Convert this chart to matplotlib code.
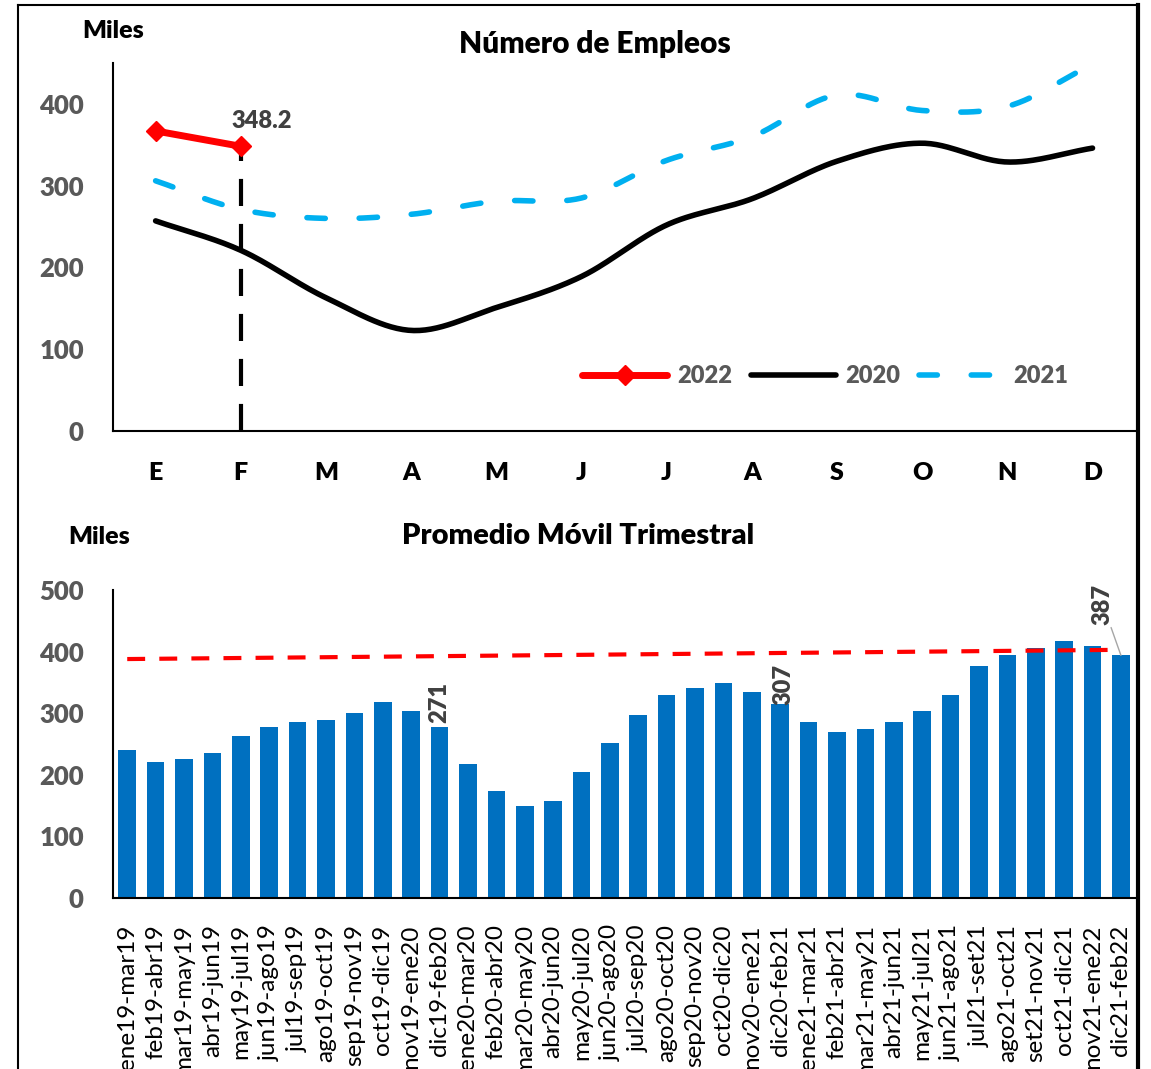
import matplotlib
matplotlib.use("Agg")
import matplotlib.pyplot as plt
from matplotlib.lines import Line2D
import numpy as np

plt.rcParams['font.family'] = ['Lato', 'DejaVu Sans']

# top chart: número de empleos (miles)
meses = ['E', 'F', 'M', 'A', 'M', 'J', 'J', 'A', 'S', 'O', 'N', 'D']
v2020 = [257, 221, 163, 123, 151, 189, 252, 284, 330, 352, 329, 346]
v2021 = [306, 271, 260, 265, 281, 285, 331, 360, 411, 392, 397, 449]
v2022 = [367, 348.2]

# bottom chart: promedio móvil trimestral
periodos = ['ene19-mar19', 'feb19-abr19', 'mar19-may19', 'abr19-jun19', 'may19-jul19',
            'jun19-ago19', 'jul19-sep19', 'ago19-oct19', 'sep19-nov19', 'oct19-dic19',
            'nov19-ene20', 'dic19-feb20', 'ene20-mar20', 'feb20-abr20', 'mar20-may20',
            'abr20-jun20', 'may20-jul20', 'jun20-ago20', 'jul20-sep20', 'ago20-oct20',
            'sep20-nov20', 'oct20-dic20', 'nov20-ene21', 'dic20-feb21', 'ene21-mar21',
            'feb21-abr21', 'mar21-may21', 'abr21-jun21', 'may21-jul21', 'jun21-ago21',
            'jul21-set21', 'ago21-oct21', 'set21-nov21', 'oct21-dic21', 'nov21-ene22',
            'dic21-feb22']
promedio = [240, 221, 226, 236, 263, 278, 286, 289, 301, 319, 304, 278,
            218, 173, 150, 158, 204, 252, 297, 330, 341, 349, 334, 315,
            286, 270, 274, 285, 304, 330, 376, 394, 406, 417, 409, 394]
etiquetas = {11: '271', 23: '307', 35: '387'}
referencia = [388, 403]


def suave(y, n=30):
    # Catmull-Rom, como la línea suavizada de Excel
    y = np.asarray(y, float)
    p = np.concatenate([[2 * y[0] - y[1]], y, [2 * y[-1] - y[-2]]])
    xs, ys = [], []
    t = np.linspace(0, 1, n, endpoint=False)
    for i in range(len(y) - 1):
        p0, p1, p2, p3 = p[i], p[i + 1], p[i + 2], p[i + 3]
        seg = 0.5 * ((2 * p1) + (-p0 + p2) * t + (2 * p0 - 5 * p1 + 4 * p2 - p3) * t ** 2
                     + (-p0 + 3 * p1 - 3 * p2 + p3) * t ** 3)
        xs.extend(i + t)
        ys.extend(seg)
    xs.append(len(y) - 1)
    ys.append(y[-1])
    return np.array(xs), np.array(ys)


gris = '#595959'
peso = 'heavy'
fig = plt.figure(figsize=(11.51, 10.69), dpi=100)

# ---- top
ax = fig.add_axes([0.0982, 0.5968, 0.888, 0.3442])
x20, y20 = suave(v2020)
x21, y21 = suave(v2021)
ax.plot(x20, y20, color='black', lw=4, solid_capstyle='round', label='2020', zorder=3)
ax.plot(x21, y21, color='#00B0F0', lw=4, dash_capstyle='round',
        linestyle=(0, (3.3, 6.1)), label='2021', zorder=3)
ax.plot(range(len(v2022)), v2022, color='#FF0000', lw=5, marker='D', markersize=10,
        solid_capstyle='round', label='2022', zorder=4)
ax.vlines(1, 0, v2022[1], colors='black', lw=3, linestyles=(0, (6.5, 4.3)), zorder=2)
ax.annotate(f'{v2022[1]:.1f}', (1, v2022[1]), xytext=(-7, 10), textcoords='offset points',
            ha='left', va='bottom', fontsize=17, fontweight=peso, color='#404040')

ax.set_xlim(-0.5, 11.5)
ax.set_ylim(0, 450)
ax.set_xticks(range(12))
ax.set_xticklabels(meses, fontsize=18, fontweight=peso, color='black')
ax.set_yticks([0, 100, 200, 300, 400])
ax.set_yticklabels(['0', '100', '200', '300', '400'], fontsize=18.5, fontweight=peso, color=gris)
ax.tick_params(axis='x', length=0, pad=22)
ax.tick_params(axis='y', length=0, pad=21)
for s in ['top', 'right']:
    ax.spines[s].set_visible(False)
for s in ['left', 'bottom']:
    ax.spines[s].set_linewidth(1.5)
ax.set_title('Número de Empleos', fontsize=21.5, fontweight=peso, pad=7, x=0.471)
fig.text(82 / 1151, 1 - 31 / 1069, 'Miles', fontsize=18, fontweight=peso, va='center')

h, l = ax.get_legend_handles_labels()
orden = [2, 0, 1]
leg = ax.legend([h[i] for i in orden], [l[i] for i in orden], ncol=3, frameon=False,
                loc='center', bbox_to_anchor=(0.697, 0.149), handlelength=3.6,
                handletextpad=0.4, columnspacing=0.8,
                prop={'size': 17, 'weight': peso})
for t in leg.get_texts():
    t.set_color(gris)

# ---- bottom
bx = fig.add_axes([0.0982, 0.16, 0.888, 0.288])
pos = np.arange(len(periodos))
bx.bar(pos, promedio, width=0.62, color='#0070C0', zorder=2)
bx.plot([pos[0], pos[-1]], referencia, color='#FF0000', lw=3,
        linestyle=(0, (4.3, 3.4)), zorder=3)
for i, txt in etiquetas.items():
    if i == 35:
        bx.annotate(txt, (i, promedio[i]), xytext=(-13, 22), textcoords='offset points',
                    rotation=90, ha='center', va='bottom', fontsize=17, fontweight=peso,
                    color='#404040',
                    arrowprops=dict(arrowstyle='-', color='#A6A6A6', lw=1,
                                    shrinkA=0, shrinkB=0))
    elif i == 23:
        bx.annotate(txt, (i, promedio[i]), xytext=(2, -1), textcoords='offset points',
                    rotation=90, ha='center', va='bottom', fontsize=17, fontweight=peso,
                    color='#404040', zorder=4)
    else:
        bx.annotate(txt, (i, promedio[i]), xytext=(0, 3), textcoords='offset points',
                    rotation=90, ha='center', va='bottom', fontsize=17, fontweight=peso,
                    color='#404040')

bx.set_xlim(-0.5, len(periodos) - 0.5)
bx.set_ylim(0, 500)
bx.set_xticks(pos)
bx.set_xticklabels(periodos, rotation=90, fontsize=17.5, color='black')
bx.set_yticks([0, 100, 200, 300, 400, 500])
bx.set_yticklabels(['0', '100', '200', '300', '400', '500'], fontsize=18.5,
                   fontweight=peso, color=gris)
bx.tick_params(axis='x', length=0, pad=19)
bx.tick_params(axis='y', length=0, pad=21)
for s in ['top', 'right']:
    bx.spines[s].set_visible(False)
for s in ['left', 'bottom']:
    bx.spines[s].set_linewidth(1.5)
bx.set_title('Promedio Móvil Trimestral', fontsize=21, fontweight=peso, pad=33, x=0.455)
fig.text(68 / 1151, 1 - 537 / 1069, 'Miles', fontsize=18, fontweight=peso, va='center')

# marco exterior
fig.add_artist(Line2D([18 / 1151, 18 / 1151], [0, 1 - 5 / 1069], color='black', lw=1.5))
fig.add_artist(Line2D([18 / 1151, 1138 / 1151], [1 - 5 / 1069, 1 - 5 / 1069], color='black', lw=1.5))
fig.add_artist(Line2D([1138 / 1151, 1138 / 1151], [0, 1 - 5 / 1069], color='black', lw=3))

fig.savefig('out.png', dpi=100)
